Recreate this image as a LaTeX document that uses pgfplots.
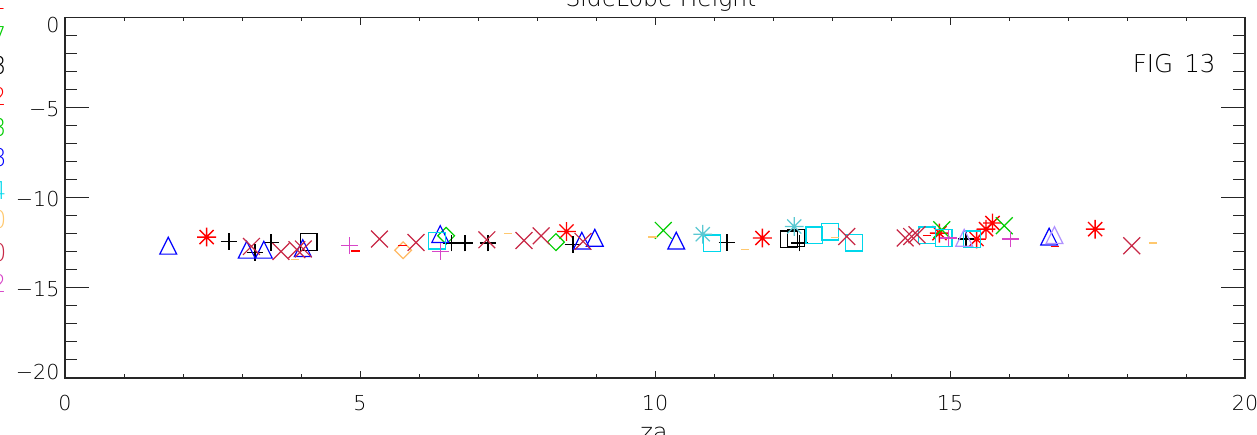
\documentclass[border=0pt]{standalone}
\usepackage{pgfplots}
\pgfplotsset{compat=1.18}
\usepackage{fontspec}
\setmainfont{DejaVu Sans ExtraLight}
\definecolor{idlred}{RGB}{255,0,0}
\definecolor{idlgreen}{RGB}{0,205,0}
\definecolor{idlblue}{RGB}{0,0,255}
\definecolor{idlcyan}{RGB}{0,215,235}
\definecolor{idlcyanast}{RGB}{90,200,210}
\definecolor{idlorange}{RGB}{255,200,110}
\definecolor{idlorangedia}{RGB}{255,185,100}
\definecolor{idlcrimson}{RGB}{200,40,70}
\definecolor{idlmagenta}{RGB}{215,70,200}
\definecolor{idllav}{RGB}{175,145,255}
\pgfdeclareplotmark{idltri}{%
  \pgfpathmoveto{\pgfqpoint{-\pgfplotmarksize}{-\pgfplotmarksize}}%
  \pgfpathlineto{\pgfqpoint{\pgfplotmarksize}{-\pgfplotmarksize}}%
  \pgfpathlineto{\pgfqpoint{0pt}{\pgfplotmarksize}}%
  \pgfpathclose\pgfusepathqstroke}
\pgfdeclareplotmark{idlsq}{%
  \pgfpathrectangle{\pgfqpoint{-\pgfplotmarksize}{-\pgfplotmarksize}}{\pgfqpoint{2\pgfplotmarksize}{2\pgfplotmarksize}}%
  \pgfusepathqstroke}
\pgfdeclareplotmark{idldia}{%
  \pgfpathmoveto{\pgfqpoint{\pgfplotmarksize}{0pt}}%
  \pgfpathlineto{\pgfqpoint{0pt}{\pgfplotmarksize}}%
  \pgfpathlineto{\pgfqpoint{-\pgfplotmarksize}{0pt}}%
  \pgfpathlineto{\pgfqpoint{0pt}{-\pgfplotmarksize}}%
  \pgfpathclose\pgfusepathqstroke}
\pgfdeclareplotmark{idlplus}{%
  \pgfpathmoveto{\pgfqpoint{-\pgfplotmarksize}{0pt}}\pgfpathlineto{\pgfqpoint{\pgfplotmarksize}{0pt}}%
  \pgfpathmoveto{\pgfqpoint{0pt}{-\pgfplotmarksize}}\pgfpathlineto{\pgfqpoint{0pt}{\pgfplotmarksize}}%
  \pgfusepathqstroke}
\pgfdeclareplotmark{idlx}{%
  \pgfpathmoveto{\pgfqpoint{-\pgfplotmarksize}{-\pgfplotmarksize}}\pgfpathlineto{\pgfqpoint{\pgfplotmarksize}{\pgfplotmarksize}}%
  \pgfpathmoveto{\pgfqpoint{-\pgfplotmarksize}{\pgfplotmarksize}}\pgfpathlineto{\pgfqpoint{\pgfplotmarksize}{-\pgfplotmarksize}}%
  \pgfusepathqstroke}
\pgfdeclareplotmark{idlast}{%
  \pgfpathmoveto{\pgfqpoint{-\pgfplotmarksize}{0pt}}\pgfpathlineto{\pgfqpoint{\pgfplotmarksize}{0pt}}%
  \pgfpathmoveto{\pgfqpoint{0pt}{-\pgfplotmarksize}}\pgfpathlineto{\pgfqpoint{0pt}{\pgfplotmarksize}}%
  \pgfpathmoveto{\pgfqpoint{-.75\pgfplotmarksize}{-.75\pgfplotmarksize}}\pgfpathlineto{\pgfqpoint{.75\pgfplotmarksize}{.75\pgfplotmarksize}}%
  \pgfpathmoveto{\pgfqpoint{-.75\pgfplotmarksize}{.75\pgfplotmarksize}}\pgfpathlineto{\pgfqpoint{.75\pgfplotmarksize}{-.75\pgfplotmarksize}}%
  \pgfusepathqstroke}
\pgfdeclareplotmark{idldash}{%
  \pgfpathmoveto{\pgfqpoint{-\pgfplotmarksize}{0pt}}\pgfpathlineto{\pgfqpoint{\pgfplotmarksize}{0pt}}%
  \pgfusepathqstroke}
\begin{document}
\begin{tikzpicture}
\path[use as bounding box] (-32.5pt,-28pt) rectangle (596pt,189pt);
\clip (-32.5pt,-28pt) rectangle (596pt,189pt);
\pgfplotsset{idlbase/.style={
  scale only axis, width=590pt, height=180.2pt,
  at={(0pt,0pt)}, anchor=south west,
  xmin=0, xmax=20, ymin=-20, ymax=0,
  axis line style={line width=0.65pt, black!85},
  tick style={line width=0.5pt, black!85},
  tick align=inside,
  tick pos=both,
}}
% y ticks (long)
\begin{axis}[idlbase,
  xtick=\empty,
  ytick={-20,-15,-10,-5,0},
  minor y tick num=4,
  major tick length=12pt, minor tick length=6pt,
  yticklabels={\smash{\raisebox{-0.5pt}{−20}},\smash{\raisebox{-4.5pt}{−15}},\smash{\raisebox{-4.5pt}{−10}},\smash{\raisebox{-4.5pt}{−5}},\smash{\raisebox{-7.4pt}{0}}},
  yticklabel style={font=\fontsize{10.3}{12}\selectfont, inner sep=0pt, xshift=-2.6pt},
]
\end{axis}
% x ticks (short) and data
\begin{axis}[idlbase,
  ytick=\empty,
  xtick={0,5,10,15,20},
  minor x tick num=4,
  major tick length=3.6pt, minor tick length=1.8pt,
  xticklabel style={font=\fontsize{10.3}{12}\selectfont, /pgf/number format/assume math mode=true, inner sep=0pt, yshift=-8.5pt},
  mark size=4.2pt,
  every axis plot/.append style={only marks, line width=0.6pt},
]
% red asterisk
\addplot[color=idlred, mark=idlast, mark size=4.7pt, line width=0.7pt] coordinates {
(2.40,-12.18) (8.50,-11.87) (11.82,-12.23) (14.82,-11.96) (15.45,-12.29)
(15.61,-11.74) (15.72,-11.40) (17.46,-11.74)};
% green X
\addplot[color=idlgreen, mark=idlx] coordinates {
(10.14,-11.81) (14.86,-11.77) (15.92,-11.55)};
% green diamond
\addplot[color=idlgreen, mark=idldia] coordinates {
(6.46,-12.11) (8.32,-12.46)};
% black plus
\addplot[color=black, mark=idlplus] coordinates {
(2.78,-12.42) (3.22,-13.03) (3.49,-12.48) (6.55,-12.51) (6.78,-12.51)
(7.17,-12.51) (8.61,-12.60) (11.22,-12.47) (12.45,-12.51) (15.27,-12.29)};
% black square
\addplot[color=black, mark=idlsq] coordinates {
(4.13,-12.46) (12.27,-12.31) (12.39,-12.23)};
% blue triangle
\addplot[color=idlblue, mark=idltri] coordinates {
(1.75,-12.66) (3.08,-12.88) (3.37,-12.88) (4.03,-12.79) (6.36,-12.01)
(8.76,-12.38) (8.98,-12.22) (10.36,-12.38) (16.68,-12.15)};
% cyan square
\addplot[color=idlcyan, mark=idlsq] coordinates {
(6.31,-12.38) (10.97,-12.53) (12.70,-12.09) (12.97,-11.88) (13.37,-12.49)
(14.61,-12.09) (14.89,-12.23) (15.37,-12.31)};
% cyan asterisk
\addplot[color=idlcyanast, mark=idlast, mark size=4.7pt] coordinates {
(10.81,-12.02) (12.36,-11.59)};
% orange dash
\addplot[color=idlorange, mark=idldash, mark size=2.1pt] coordinates {
(3.90,-13.44) (7.51,-12.00) (9.96,-12.18) (11.53,-12.88) (13.05,-12.20) (18.44,-12.51)};
% orange diamond
\addplot[color=idlorangedia, mark=idldia] coordinates {
(5.73,-12.91)};
% crimson X
\addplot[color=idlcrimson, mark=idlx] coordinates {
(3.16,-12.70) (3.66,-12.98) (3.93,-12.88) (4.04,-12.84) (5.33,-12.29)
(5.95,-12.48) (7.15,-12.33) (7.78,-12.37) (8.07,-12.11) (8.78,-12.42)
(13.25,-12.15) (14.24,-12.23) (14.35,-12.15) (14.44,-12.05) (18.08,-12.66)};
% magenta plus
\addplot[color=idlmagenta, mark=idlplus] coordinates {
(4.82,-12.66) (6.36,-12.98) (14.97,-12.23) (16.02,-12.29)};
% red dash
\addplot[color=idlred, mark=idldash, mark size=2.2pt] coordinates {
(4.93,-12.95) (5.72,-12.66) (14.61,-12.10) (16.78,-12.70)};
% lavender triangle
\addplot[color=idllav, mark=idltri] coordinates {
(15.24,-12.22) (16.77,-12.07)};
\end{axis}
% title, labels, annotation
\node[anchor=base, inner sep=0pt, font=\fontsize{11.7}{14}\selectfont] at (298pt,185.5pt) {SideLobe Height};
\node[anchor=north, inner sep=0pt, font=\fontsize{12}{14}\selectfont] at (294.5pt,-24.5pt) {za};
\node[anchor=base east, inner sep=0pt, font=\fontsize{12.3}{14}\selectfont] at (575.5pt,152.5pt) {FIG\hspace{0.45em}13};
% legend texts (cut off at the left edge)
\begin{scope}[every node/.style={anchor=east, inner sep=0pt, font=\fontsize{12.3}{14}\selectfont}]
\node[text=idlred] at (-29pt,188.5pt) {1};
\node[text=idlgreen] at (-29pt,171pt) {7};
\node[text=black] at (-29pt,156pt) {3};
\node[text=idlred] at (-29pt,141pt) {2};
\node[text=idlgreen] at (-29pt,125.25pt) {3};
\node[text=idlblue] at (-29pt,110pt) {8};
\node[text=idlcyan] at (-29pt,93.5pt) {4};
\node[text=idlorange] at (-29pt,79pt) {0};
\node[text=idlcrimson] at (-29pt,62.5pt) {0};
\node[text=idlmagenta] at (-29pt,47.5pt) {2};
\end{scope}
\end{tikzpicture}
\end{document}
